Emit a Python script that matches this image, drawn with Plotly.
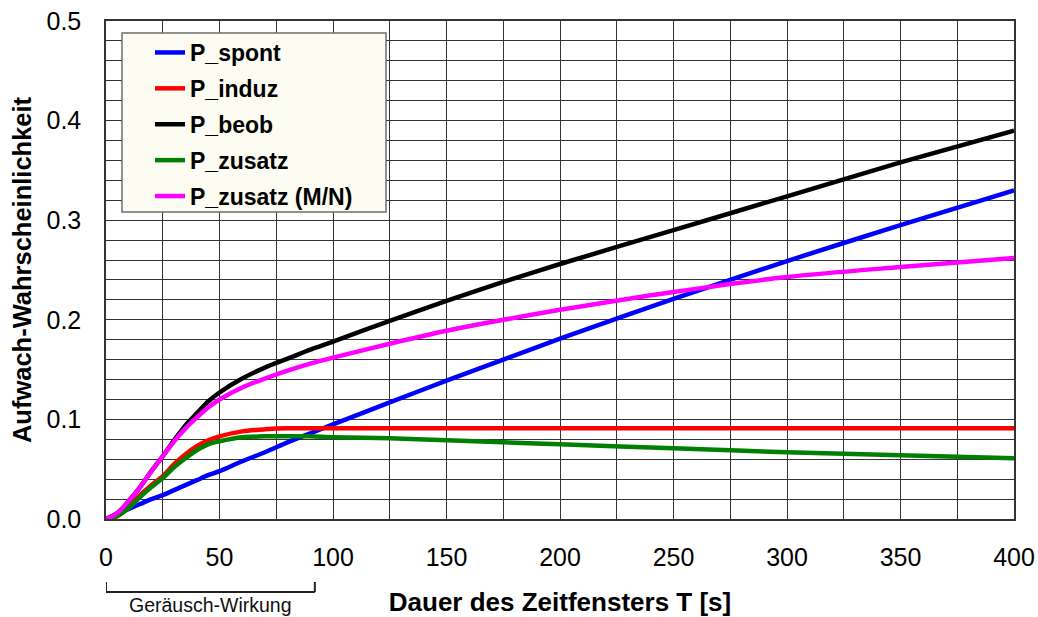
import plotly.graph_objects as go

# ---- data ----
T = [0, 5, 10, 15, 20, 25, 30, 35, 40, 45, 50, 60, 70, 80, 90, 100,
     125, 150, 175, 200, 250, 300, 350, 400]

p_spont = [0.000, 0.005, 0.010, 0.015, 0.020, 0.024, 0.029, 0.034, 0.039, 0.044,
           0.048, 0.058, 0.067, 0.077, 0.086, 0.095,
           0.117, 0.139, 0.160, 0.181, 0.221, 0.259, 0.295, 0.330]

p_induz = [0.000, 0.003, 0.012, 0.024, 0.034, 0.043, 0.055, 0.065, 0.073, 0.079,
           0.083, 0.088, 0.090, 0.091, 0.091, 0.091,
           0.091, 0.091, 0.091, 0.091, 0.091, 0.091, 0.091, 0.091]

p_beob = [0.000, 0.006, 0.018, 0.032, 0.048, 0.063, 0.079, 0.094, 0.106, 0.118,
          0.127, 0.141, 0.152, 0.161, 0.170, 0.178,
          0.199, 0.219, 0.238, 0.256, 0.290, 0.324, 0.358, 0.390]

p_zusatz = [0.000, 0.003, 0.011, 0.022, 0.032, 0.041, 0.052, 0.061, 0.069, 0.075,
            0.078, 0.082, 0.083, 0.083, 0.083, 0.082,
            0.081, 0.079, 0.077, 0.075, 0.071, 0.067, 0.064, 0.061]

p_zusatz_mn = [0.000, 0.006, 0.018, 0.032, 0.048, 0.063, 0.078, 0.091, 0.102, 0.112,
               0.120, 0.132, 0.141, 0.149, 0.156, 0.162,
               0.176, 0.189, 0.200, 0.210, 0.228, 0.243, 0.253, 0.262]

series_names = ["P_spont", "P_induz", "P_beob", "P_zusatz", "P_zusatz (M/N)"]
series_values = [p_spont, p_induz, p_beob, p_zusatz, p_zusatz_mn]
series_colors = ["#0000FF", "#FF0000", "#000000", "#008000", "#FF00FF"]

x_ticks = [0, 50, 100, 150, 200, 250, 300, 350, 400]
y_ticks = [0.0, 0.1, 0.2, 0.3, 0.4, 0.5]

noise_range = [0, 92]          # span of the "Geräusch-Wirkung" bracket (s)
noise_label = "Geräusch-Wirkung"

FONT = "Arial, 'Liberation Sans', Helvetica, sans-serif"

fig = go.Figure()
for i, (name, vals, col) in enumerate(zip(series_names, series_values, series_colors)):
    fig.add_trace(go.Scatter(
        x=T, y=vals, name=name, mode="lines",
        line=dict(color=col, width=4.5, shape="spline", smoothing=0.8),
        legendgroup=f"g{i}",
    ))

# plot-area geometry (pixels)
W, H = 1038, 617
ML, MR, MT, MB = 106, 24, 21, 98
PW, PH = W - ML - MR, H - MT - MB

def px2paper_x(px):
    return (px - ML) / PW

def py2paper_y(py):
    return (H - MB - py) / PH

# legend box (drawn as a shape so its size matches the reference)
fig.add_shape(type="rect", xref="paper", yref="paper",
              x0=px2paper_x(122), x1=px2paper_x(386),
              y0=py2paper_y(212), y1=py2paper_y(33),
              fillcolor="#FCFCF3", line=dict(color="#6e6e6e", width=1.5),
              layer="above")

# bracket under the x axis
yb = py2paper_y(592)
yt = py2paper_y(582)
fig.add_shape(type="line", xref="x", yref="paper", x0=noise_range[0], x1=noise_range[1],
              y0=yb, y1=yb, line=dict(color="#222", width=2))
fig.add_shape(type="line", xref="x", yref="paper", x0=noise_range[0], x1=noise_range[0],
              y0=yb, y1=yt, line=dict(color="#222", width=2))
fig.add_shape(type="line", xref="x", yref="paper", x0=noise_range[1], x1=noise_range[1],
              y0=yb, y1=yt, line=dict(color="#222", width=2))
fig.add_annotation(x=(noise_range[0] + noise_range[1]) / 2, xref="x",
                   y=py2paper_y(605), yref="paper", yanchor="middle",
                   text=noise_label, showarrow=False,
                   font=dict(family=FONT, size=19.5, color="#111"))

fig.update_layout(
    width=W, height=H,
    margin=dict(l=ML, r=MR, t=MT, b=MB, pad=0, autoexpand=False),
    paper_bgcolor="white", plot_bgcolor="white",
    font=dict(family=FONT, color="black"),
    showlegend=True,
    legend=dict(
        x=px2paper_x(150), xanchor="left",
        y=py2paper_y(31), yanchor="top",
        bgcolor="rgba(0,0,0,0)", borderwidth=0,
        font=dict(family=FONT, size=23, color="black", weight="bold"),
        tracegroupgap=3,
        itemwidth=30,
    ),
    xaxis=dict(
        range=[0, 400], tickmode="array", tickvals=x_ticks,
        ticktext=[str(v) for v in x_ticks],
        tickfont=dict(family=FONT, size=25, color="black"),
        ticks="", ticklabelstandoff=15,
        showgrid=True, gridcolor="#333333", gridwidth=1,
        minor=dict(dtick=25, showgrid=True, gridcolor="#333333", gridwidth=1),
        showline=True, linecolor="#333", linewidth=1.5, mirror=True,
        zeroline=False, automargin=False,
        title=dict(text="<b>Dauer des Zeitfensters T [s]</b>",
                   font=dict(family=FONT, size=26, color="black"), standoff=27),
    ),
    yaxis=dict(
        range=[0, 0.5], tickmode="array", tickvals=y_ticks,
        ticktext=[f"{v:.1f}" for v in y_ticks],
        tickfont=dict(family=FONT, size=25, color="black"),
        ticks="", ticklabelstandoff=18,
        showgrid=True, gridcolor="#333333", gridwidth=1,
        minor=dict(dtick=0.02, showgrid=True, gridcolor="#333333", gridwidth=1),
        showline=True, linecolor="#333", linewidth=1.5, mirror=True,
        zeroline=False, automargin=False,
        title=dict(text="<b>Aufwach-Wahrscheinlichkeit</b>",
                   font=dict(family=FONT, size=25.5, color="black"), standoff=8),
    ),
)

fig.write_html("out.html",
               config={"displayModeBar": False},
               post_script="document.body.style.margin='0px';document.body.style.overflow='hidden';")
